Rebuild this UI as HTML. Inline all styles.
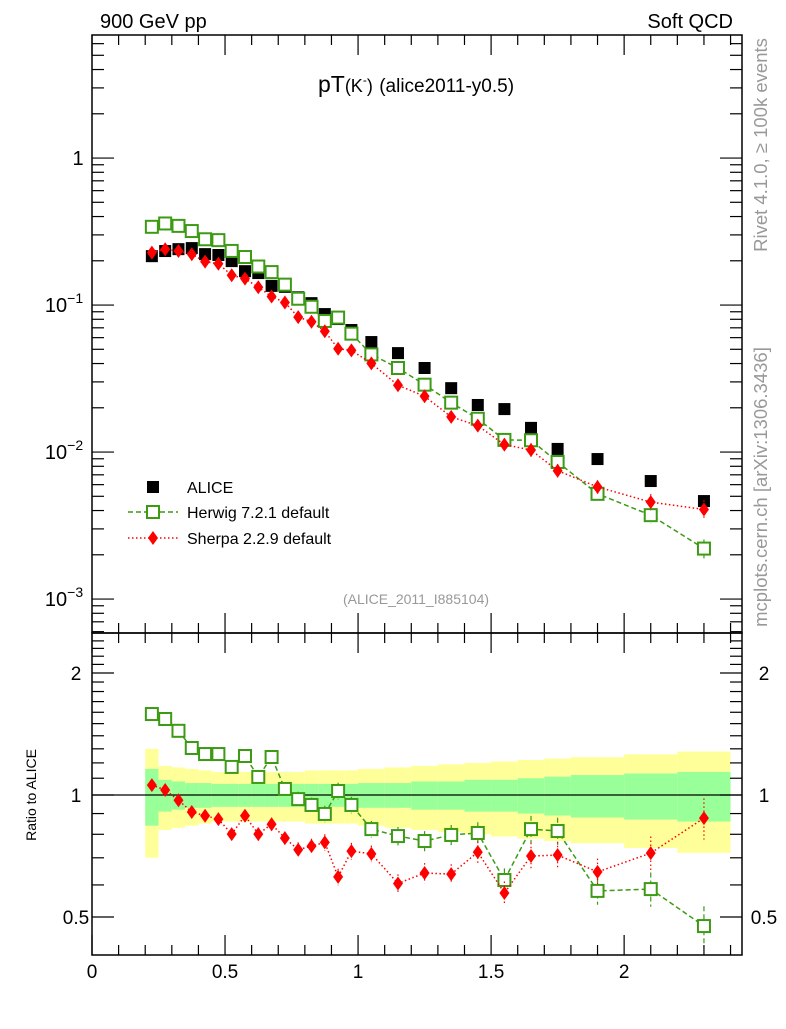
<!DOCTYPE html>
<html><head><meta charset="utf-8"><style>
body{margin:0;background:#fff;}
svg text{font-family:"Liberation Sans",sans-serif;}
</style></head><body>
<svg id="c" width="786" height="1024" xmlns="http://www.w3.org/2000/svg">
<text x="100" y="28" font-size="20">900 GeV pp</text>
<text x="733" y="28" font-size="20" text-anchor="end">Soft QCD</text>
<text x="416" y="92" font-size="23" text-anchor="middle">pT<tspan font-size="18">(K</tspan><tspan font-size="12" dy="-8">-</tspan><tspan font-size="18" dy="8">)</tspan> <tspan font-size="19">(alice2011-y0.5)</tspan></text>
<text transform="translate(767,145) rotate(-90)" font-size="18.5" fill="#999" text-anchor="middle">Rivet 4.1.0, ≥ 100k events</text>
<text transform="translate(767,487) rotate(-90)" font-size="18.5" fill="#999" text-anchor="middle">mcplots.cern.ch [arXiv:1306.3436]</text>
<text x="416" y="604" font-size="14" fill="#999" text-anchor="middle">(ALICE_2011_I885104)</text>
<text transform="translate(36,795) rotate(-90)" font-size="14" text-anchor="middle">Ratio to ALICE</text>
<g id="bands"></g><g id="marks"></g><g id="axes"></g>
<g>
<rect x="147" y="481" width="12" height="12" fill="#000"/>
<text x="187" y="493" font-size="16">ALICE</text>
<line x1="128" y1="512" x2="178" y2="512" stroke="#3c9a14" stroke-width="1.5" stroke-dasharray="5,3"/>
<rect x="147" y="506" width="12" height="12" fill="#fff" stroke="#3c9a14" stroke-width="2"/>
<text x="187" y="518" font-size="16">Herwig 7.2.1 default</text>
<line x1="128" y1="538" x2="178" y2="538" stroke="#f00" stroke-width="1.5" stroke-dasharray="1.5,2.5"/>
<path d="M153,531 L158,538 L153,545 L148,538Z" fill="#f00"/>
<text x="187" y="544" font-size="16">Sherpa 2.2.9 default</text>
</g>
</svg>
<script>
const binEdges=[0.2,0.25,0.3,0.35,0.4,0.45,0.5,0.55,0.6,0.65,0.7,0.75,0.8,0.85,0.9,0.95,1.0,1.1,1.2,1.3,1.4,1.5,1.6,1.7,1.8,2.0,2.2,2.4];
const alice=[0.215,0.233,0.240,0.244,0.222,0.219,0.199,0.170,0.165,0.135,0.133,0.113,0.103,0.0868,0.0803,0.0676,0.056,0.0471,0.0373,0.0272,0.0209,0.0196,0.0146,0.0105,0.00896,0.00635,0.00464];
const herwigRatio=[1.584,1.54,1.44,1.306,1.262,1.262,1.173,1.248,1.108,1.241,1.035,0.977,0.945,0.898,1.023,0.945,0.824,0.792,0.770,0.797,0.806,0.617,0.824,0.815,0.580,0.586,0.475];
const sherpaRatio=[1.058,1.029,0.971,0.908,0.889,0.872,0.801,0.889,0.801,0.847,0.783,0.733,0.748,0.764,0.628,0.727,0.716,0.605,0.642,0.638,0.723,0.573,0.707,0.711,0.646,0.719,0.877];
const mcRelErr=[0.01,0.01,0.01,0.01,0.01,0.01,0.015,0.015,0.02,0.02,0.02,0.025,0.025,0.03,0.03,0.03,0.03,0.035,0.04,0.04,0.045,0.05,0.06,0.06,0.06,0.08,0.1];
const greenErr=[0.16,0.09,0.08,0.07,0.07,0.065,0.065,0.065,0.065,0.065,0.065,0.065,0.065,0.065,0.065,0.065,0.07,0.07,0.08,0.08,0.09,0.09,0.10,0.11,0.12,0.13,0.14];
const yellowErr=[0.30,0.18,0.17,0.16,0.15,0.14,0.14,0.14,0.14,0.14,0.14,0.14,0.15,0.15,0.15,0.15,0.16,0.17,0.18,0.19,0.20,0.21,0.22,0.23,0.24,0.26,0.28];
const xTicks=[0,0.5,1,1.5,2];
const xTickLabels=["0","0.5","1","1.5","2"];
const ratioTicks=[0.5,1,2];
const ratioTickLabels=["0.5","1","2"];

const NS="http://www.w3.org/2000/svg";
const L=92,R=742,T=35,M=633,B=955;
const XMAX=2.443;
const sx=v=>L+(R-L)*v/XMAX;
const YMIN=-3.231,YMAX=0.837;
const sy=v=>M-(M-T)*(Math.log10(v)-YMIN)/(YMAX-YMIN);
const RMIN=Math.log2(0.403),RMAX=Math.log2(2.51);
const sr=v=>B-(B-M)*(Math.log2(v)-RMIN)/(RMAX-RMIN);
function el(tag,attrs,parent){const e=document.createElementNS(NS,tag);for(const k in attrs)e.setAttribute(k,attrs[k]);parent.appendChild(e);return e;}
const gB=document.getElementById('bands'),gM=document.getElementById('marks'),gA=document.getElementById('axes');
const centers=binEdges.slice(0,-1).map((e,i)=>(e+binEdges[i+1])/2);

for(let i=0;i<centers.length;i++){
  const x0=sx(binEdges[i]),x1=sx(binEdges[i+1]);
  const y=el('rect',{x:x0,y:sr(1+yellowErr[i]),width:x1-x0,height:sr(1-yellowErr[i])-sr(1+yellowErr[i]),fill:'#ffff99'},gB);
  
  
  const g=el('rect',{x:x0,y:sr(1+greenErr[i]),width:x1-x0,height:sr(1-greenErr[i])-sr(1+greenErr[i]),fill:'#99ff99'},gB);
  
  
}
const one=el('line',{x1:L,x2:R,y1:sr(1),y2:sr(1),stroke:'#000','stroke-width':1.2},gB);



const herwig=alice.map((a,i)=>a*herwigRatio[i]);
const sherpa=alice.map((a,i)=>a*sherpaRatio[i]);
function series(vals,yf,color,dash,kind,name){
  const pts=centers.map((c,i)=>sx(c)+','+yf(vals[i])).join(' ');
  const pl=el('polyline',{points:pts,fill:'none',stroke:color,'stroke-width':1.5,'stroke-dasharray':dash},gM);
  
  
  centers.forEach((c,i)=>{
    const x=sx(c),y=yf(vals[i]);
    const e1=yf(vals[i]*(1+mcRelErr[i])),e2=yf(vals[i]*(1-mcRelErr[i]));
    const eb=el('line',{x1:x,x2:x,y1:e1-3,y2:e2+3,stroke:color,'stroke-width':1.2,'stroke-dasharray':dash},gM);
    
    
    let m;
    if(kind==='sq') m=el('rect',{x:x-6,y:y-6,width:12,height:12,fill:'#fff',stroke:color,'stroke-width':2},gM);
    else m=el('path',{d:`M${x},${y-7}L${x+5},${y}L${x},${y+7}L${x-5},${y}Z`,fill:color},gM);
    
    
  });
}
centers.forEach((c,i)=>{
  const r=el('rect',{x:sx(c)-6,y:sy(alice[i])-6,width:12,height:12,fill:'#000'},gM);
  
  
});
series(herwig,sy,'#3c9a14','5,3','sq','herwig-main');
series(sherpa,sy,'#f00','1.5,2.5','di','sherpa-main');
series(herwigRatio,sr,'#3c9a14','5,3','sq','herwig-ratio');
series(sherpaRatio,sr,'#f00','1.5,2.5','di','sherpa-ratio');

[[T,M,'main-frame'],[M,B,'ratio-frame']].forEach(([a,b,n])=>{
  const f=el('rect',{x:L,y:a,width:R-L,height:b-a,fill:'none',stroke:'#000','stroke-width':1.5},gA);
  
  
});
function tick(x1,y1,x2,y2){el('line',{x1,y1,x2,y2,stroke:'#000','stroke-width':1.2},gA);}
for(let v=0;v<=XMAX;v+=0.1){
  const x=sx(v),maj=Math.abs(v*2-Math.round(v*2))<1e-6,l=maj?20:10;
  tick(x,T,x,T+l);tick(x,M,x,M-l);tick(x,M,x,M+l);tick(x,B,x,B-l);
}
xTicks.forEach((v,i)=>{
  const t=el('text',{x:sx(v),y:978,'font-size':19,'text-anchor':'middle'},gA);
  t.textContent=xTickLabels[i];
  
  
});
for(let d=-4;d<=1;d++){
  for(let k=1;k<10;k++){
    const v=k*Math.pow(10,d);const y=sy(v);if(y<T||y>M)continue;
    const l=k===1?22:12;tick(L,y,L+l,y);tick(R,y,R-l,y);
  }
}
const decLabels=[[1,'1',''],[0.1,'10','−1'],[0.01,'10','−2'],[0.001,'10','−3']];
decLabels.forEach(([v,b,e])=>{
  const t=el('text',{x:e?64:78,y:sy(v)+7,'font-size':20,'text-anchor':'middle'},gA);
  t.textContent=b;
  if(e){const s=el('tspan',{'font-size':14,dy:-9},t);s.textContent=e;}
  
  
});
for(let v=0.4;v<=2.5;v+=0.1){
  const y=sr(v);if(y<M||y>B)continue;
  const maj=ratioTicks.some(t=>Math.abs(t-v)<1e-6),l=maj?22:12;
  tick(L,y,L+l,y);tick(R,y,R-l,y);
}
ratioTicks.forEach((v,i)=>{
  [76,764].forEach(x=>{
    const t=el('text',{x:x,y:sr(v)+7,'font-size':19,'text-anchor':'middle'},gA);
    t.textContent=ratioTickLabels[i];
    
    
  });
});
</script>
</body></html>
